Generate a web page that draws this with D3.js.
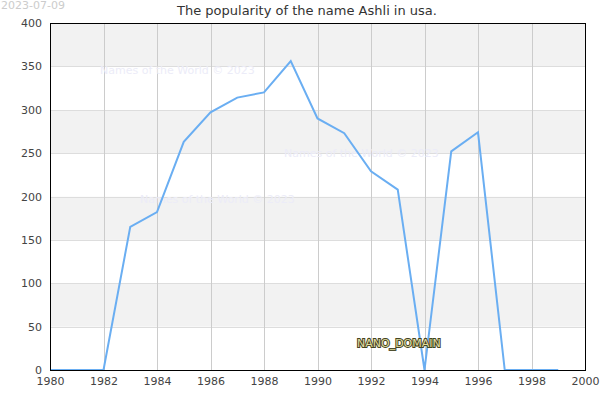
<!DOCTYPE html>
<html>
<head>
<meta charset="utf-8">
<script src="https://cdn.jsdelivr.net/npm/d3@7"></script>
<style>
body { margin: 0; background: #fff; }
svg { font-family: "DejaVu Sans", sans-serif; }
</style>
</head>
<body>
<div id="chart"></div>
<script>
var years = [1980,1981,1982,1983,1984,1985,1986,1987,1988,1989,1990,1991,1992,1993,1994,1995,1996,1997,1998,1999];
var counts = [0,0,0,165,182,263,297,314,320,356,290,273,229,208,0,252,274,0,0,0];
var xTicks = [1980,1982,1984,1986,1988,1990,1992,1994,1996,1998,2000];
var yTicks = [0,50,100,150,200,250,300,350,400];
var title = "The popularity of the name Ashli in usa.";
var stamp = "2023-07-09";
var marks = ["Names of the World © 2023","Names of the World © 2023","Names of the World © 2023"];

(function() {

var width = 600, height = 400;
var mLeft = 50, mRight = 585, mTop = 23, mBottom = 370;

var svg = d3.select('#chart').append('svg')
    .attr('width', width)
    .attr('height', height);

var x = d3.scaleLinear().domain([1980, 2000]).range([mLeft, mRight]);
var y = d3.scaleLinear().domain([0, 400]).range([mBottom, mTop]);

//alternating bands
svg.append('g').selectAll('rect')
    .data(yTicks.slice(0, -1))
    .join('rect')
    .attr('x', mLeft)
    .attr('width', mRight - mLeft)
    .attr('y', d => y(d + 50))
    .attr('height', d => y(d) - y(d + 50))
    .attr('fill', (d, i) => i % 2 ? '#f2f2f2' : '#fff');

//grid
svg.append('g').selectAll('line')
    .data(yTicks)
    .join('line')
    .attr('x1', mLeft).attr('x2', mRight)
    .attr('y1', d => Math.round(y(d)) + 0.5).attr('y2', d => Math.round(y(d)) + 0.5)
    .attr('stroke', '#ddd');

svg.append('g').selectAll('line')
    .data(xTicks)
    .join('line')
    .attr('y1', mTop).attr('y2', mBottom)
    .attr('x1', d => Math.round(x(d)) + 0.5).attr('x2', d => Math.round(x(d)) + 0.5)
    .attr('stroke', '#ccc');

//watermarks
var wm = [[100, 74], [284, 157], [140, 203]];
svg.append('g').selectAll('text')
    .data(marks)
    .join('text')
    .attr('x', (d, i) => wm[i][0])
    .attr('y', (d, i) => wm[i][1])
    .attr('font-size', 11)
    .attr('fill', '#ececf8')
    .text(d => d);

//line
svg.append('path')
    .datum(years.map((d, i) => [d, counts[i]]))
    .attr('fill', 'none')
    .attr('stroke', '#6aaef2')
    .attr('stroke-width', 2)
    .attr('d', d3.line().x(d => x(d[0])).y(d => y(d[1])));

//frame
svg.append('rect')
    .attr('x', mLeft + 0.5).attr('y', mTop + 0.5)
    .attr('width', mRight - mLeft).attr('height', mBottom - mTop)
    .attr('fill', 'none')
    .attr('stroke', '#000');

//axes
svg.append('g')
    .attr('transform', `translate(0,${mBottom})`)
    .call(d3.axisBottom(x).tickValues(xTicks).tickFormat(d3.format('d')).tickSize(0).tickPadding(7))
    .call(g => g.select('.domain').remove())
    .call(g => g.selectAll('text').attr('font-size', 11).attr('fill', '#444').attr('font-family', '"DejaVu Sans", sans-serif'));

svg.append('g')
    .attr('transform', `translate(${mLeft},0)`)
    .call(d3.axisLeft(y).tickValues(yTicks).tickSize(0).tickPadding(8))
    .call(g => g.select('.domain').remove())
    .call(g => g.selectAll('text').attr('font-size', 11).attr('fill', '#444').attr('font-family', '"DejaVu Sans", sans-serif'));

//title and date
svg.append('text')
    .attr('x', 307).attr('y', 15)
    .attr('text-anchor', 'middle')
    .attr('font-size', 13)
    .attr('fill', '#333')
    .text(title);

svg.append('text')
    .attr('x', 1).attr('y', 9)
    .attr('font-size', 11)
    .attr('fill', '#ccc')
    .text(stamp);

svg.append('text')
    .attr('x', 357).attr('y', 347)
    .attr('font-size', 11)
    .attr('fill', '#e0dca0')
    .attr('stroke', '#444422')
    .attr('stroke-width', 2)
    .attr('paint-order', 'stroke')
    .text('NANO_DOMAIN');

})();
</script>
</body>
</html>
